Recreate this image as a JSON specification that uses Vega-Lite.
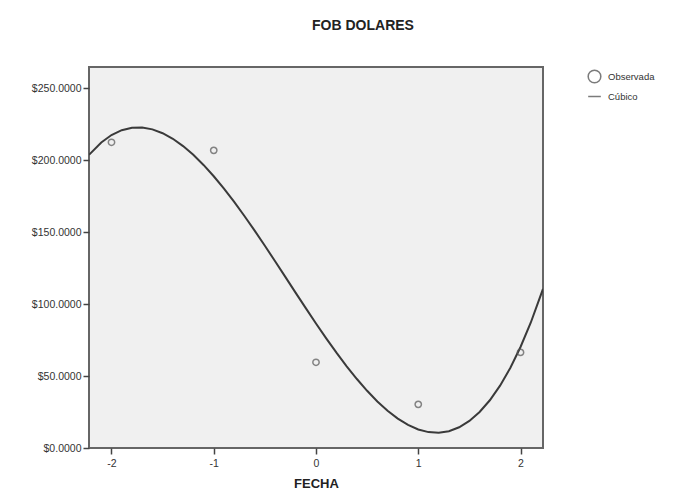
{
  "$schema": "https://vega.github.io/schema/vega-lite/v6.json",
  "autosize": {"type": "none"},
  "width": 454,
  "height": 381,
  "padding": {"left": 89, "top": 67, "right": 130, "bottom": 49},
  "background": "white",
  "title": {"text": "FOB DOLARES", "font": "Liberation Sans", "fontSize": 14, "fontWeight": "bold", "color": "#222", "anchor": "middle", "dx": 47, "offset": 34},
  "config": {
    "view": {"fill": "#f0f0f0", "stroke": "#666", "strokeWidth": 2},
    "axis": {"grid": false, "domain": false, "labelFont": "Liberation Sans", "labelFontSize": 10.5, "labelColor": "#333", "tickColor": "#444", "tickSize": 6, "tickWidth": 1.5, "titleFont": "Liberation Sans"}
  },
  "datasets": {
    "obs": [
      {"fecha": -2, "fob": 212.3, "serie": "Observada"},
      {"fecha": -1, "fob": 206.7, "serie": "Observada"},
      {"fecha": 0, "fob": 59.5, "serie": "Observada"},
      {"fecha": 1, "fob": 30.3, "serie": "Observada"},
      {"fecha": 2, "fob": 66.4, "serie": "Observada"}
    ],
    "fit": [
      {"fecha": -2.22, "fob": 203.61, "serie": "Cúbico"},
      {"fecha": -2.1, "fob": 212.22, "serie": "Cúbico"},
      {"fecha": -2.0, "fob": 217.34, "serie": "Cúbico"},
      {"fecha": -1.9, "fob": 220.70, "serie": "Cúbico"},
      {"fecha": -1.8, "fob": 222.41, "serie": "Cúbico"},
      {"fecha": -1.7, "fob": 222.57, "serie": "Cúbico"},
      {"fecha": -1.6, "fob": 221.27, "serie": "Cúbico"},
      {"fecha": -1.5, "fob": 218.63, "serie": "Cúbico"},
      {"fecha": -1.4, "fob": 214.73, "serie": "Cúbico"},
      {"fecha": -1.3, "fob": 209.69, "serie": "Cúbico"},
      {"fecha": -1.2, "fob": 203.61, "serie": "Cúbico"},
      {"fecha": -1.1, "fob": 196.60, "serie": "Cúbico"},
      {"fecha": -1.0, "fob": 188.73, "serie": "Cúbico"},
      {"fecha": -0.9, "fob": 180.13, "serie": "Cúbico"},
      {"fecha": -0.8, "fob": 170.91, "serie": "Cúbico"},
      {"fecha": -0.7, "fob": 161.14, "serie": "Cúbico"},
      {"fecha": -0.6, "fob": 150.95, "serie": "Cúbico"},
      {"fecha": -0.5, "fob": 140.43, "serie": "Cúbico"},
      {"fecha": -0.4, "fob": 129.68, "serie": "Cúbico"},
      {"fecha": -0.3, "fob": 118.82, "serie": "Cúbico"},
      {"fecha": -0.2, "fob": 107.92, "serie": "Cúbico"},
      {"fecha": -0.1, "fob": 97.12, "serie": "Cúbico"},
      {"fecha": 0.0, "fob": 86.50, "serie": "Cúbico"},
      {"fecha": 0.1, "fob": 76.16, "serie": "Cúbico"},
      {"fecha": 0.2, "fob": 66.22, "serie": "Cúbico"},
      {"fecha": 0.3, "fob": 56.76, "serie": "Cúbico"},
      {"fecha": 0.4, "fob": 47.90, "serie": "Cúbico"},
      {"fecha": 0.5, "fob": 39.73, "serie": "Cúbico"},
      {"fecha": 0.6, "fob": 32.35, "serie": "Cúbico"},
      {"fecha": 0.7, "fob": 25.88, "serie": "Cúbico"},
      {"fecha": 0.8, "fob": 20.41, "serie": "Cúbico"},
      {"fecha": 0.9, "fob": 16.05, "serie": "Cúbico"},
      {"fecha": 1.0, "fob": 12.89, "serie": "Cúbico"},
      {"fecha": 1.1, "fob": 11.04, "serie": "Cúbico"},
      {"fecha": 1.2, "fob": 10.61, "serie": "Cúbico"},
      {"fecha": 1.3, "fob": 11.67, "serie": "Cúbico"},
      {"fecha": 1.4, "fob": 14.37, "serie": "Cúbico"},
      {"fecha": 1.5, "fob": 18.77, "serie": "Cúbico"},
      {"fecha": 1.6, "fob": 24.99, "serie": "Cúbico"},
      {"fecha": 1.7, "fob": 33.15, "serie": "Cúbico"},
      {"fecha": 1.8, "fob": 43.31, "serie": "Cúbico"},
      {"fecha": 1.9, "fob": 55.62, "serie": "Cúbico"},
      {"fecha": 2.0, "fob": 70.14, "serie": "Cúbico"},
      {"fecha": 2.1, "fob": 87.00, "serie": "Cúbico"},
      {"fecha": 2.22, "fob": 110.45, "serie": "Cúbico"}
    ]
  },
  "encoding": {
    "x": {"field": "fecha", "type": "quantitative", "scale": {"domain": [-2.22, 2.22], "nice": false, "zero": false},
      "axis": {"values": [-2, -1, 0, 1, 2], "labelExpr": "toString(datum.value)", "title": "FECHA", "titleFontSize": 13, "titleFontWeight": "bold", "titleColor": "#222", "titlePadding": 9, "labelPadding": 4}},
    "y": {"field": "fob", "type": "quantitative", "scale": {"domain": [0, 264.6], "nice": false},
      "axis": {"values": [0, 50, 100, 150, 200, 250], "format": "$.4f", "title": null, "labelPadding": 2}}
  },
  "layer": [
    {
      "data": {"name": "fit"},
      "mark": {"type": "line", "color": "#3a3a3a", "strokeWidth": 2, "clip": true},
      "encoding": {}
    },
    {
      "data": {"name": "obs"},
      "mark": {"type": "point", "filled": false, "color": "#555", "size": 40, "strokeWidth": 1.5},
      "encoding": {
        "shape": {"field": "serie", "type": "nominal",
          "scale": {"domain": ["Observada", "Cúbico"], "range": ["circle", "stroke"]},
          "legend": {"title": null, "orient": "right", "offset": 42, "labelFont": "Liberation Sans", "labelFontSize": 9.5, "labelColor": "#333", "symbolSize": 160, "symbolStrokeColor": "#444", "symbolStrokeWidth": 1.5, "rowPadding": 3, "labelOffset": 6, "padding": 2}}
      }
    }
  ]
}
